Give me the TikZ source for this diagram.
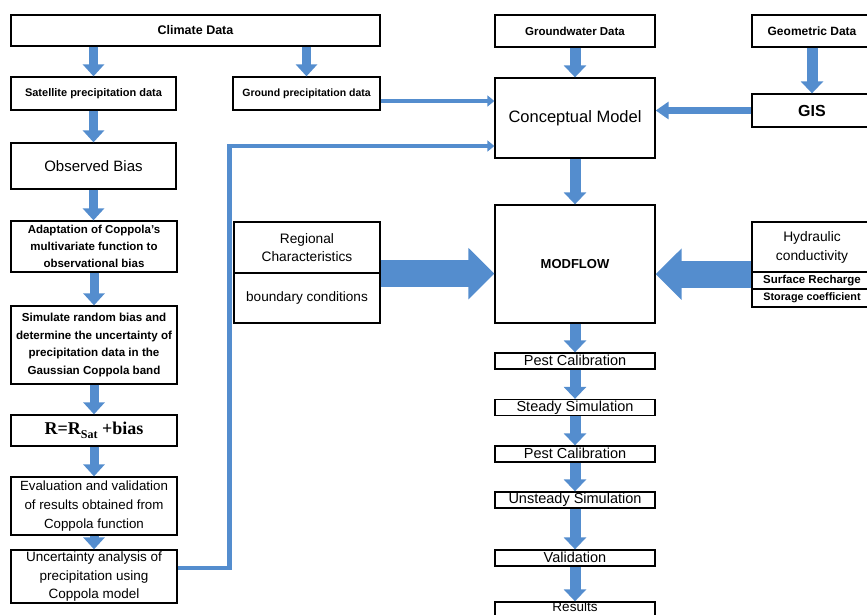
\documentclass[tikz,border=0pt]{standalone}
\usepackage{fontspec}
\setmainfont{Liberation Sans}
\newfontfamily\tnr{Liberation Serif}
\usetikzlibrary{arrows.meta}
\definecolor{ablue}{RGB}{84,141,206}
\newcommand\fs[2]{\fontsize{#1}{#2}\selectfont}
\tikzset{
  box/.style={draw, line width=1.3pt, inner sep=0pt, align=center, rectangle, fill=white},
  arr/.style={color=ablue, line width=9pt, -{Triangle[width=21pt,length=12pt]}},
  arrw/.style={color=ablue, line width=11pt, -{Triangle[width=22pt,length=12pt]}},
  arrs/.style={color=ablue, line width=7pt, -{Triangle[width=17pt,length=13pt]}},
  arrt/.style={color=ablue, line width=4.5pt, line join=miter, -{Triangle[width=11pt,length=7pt]}},
  arrbig/.style={color=ablue, line width=27pt, -{Triangle[width=50pt,length=26pt]}},
  small/.style={box, minimum width=160pt, minimum height=16pt, font=\fs{14.5}{16}},
}
\begin{document}
\begin{tikzpicture}[x=1pt,y=-1pt]
\useasboundingbox (0,0) rectangle (867,614);
% left column
\node[box, minimum width=369pt, minimum height=31pt, font=\fs{12.5}{15}\bfseries] (climate) at (195.5,30.5) {Climate Data};
\node[box, minimum width=165pt, minimum height=33pt, font=\fs{11}{13}\bfseries] (sat) at (93.5,93.5) {Satellite precipitation data};
\node[box, minimum width=147pt, minimum height=33pt, font=\fs{10.5}{13}\bfseries] (ground) at (306.5,93.5) {Ground precipitation data};
\node[box, minimum width=165pt, minimum height=46pt, font=\fs{15}{18}] (obs) at (93.5,166) {Observed Bias};
\node[box, minimum width=166pt, minimum height=51pt, font=\fs{11.5}{17}\bfseries] (adapt) at (94,246.5) {Adaptation of Coppola's\\multivariate function to\\observational bias};
\node[box, minimum width=166pt, minimum height=78pt, font=\fs{11.6}{17.5}\bfseries] (sim) at (94,345) {Simulate random bias and\\determine the uncertainty of\\precipitation data in the\\Gaussian Coppola band};
\node[box, minimum width=166pt, minimum height=31pt, font=\tnr\fs{18}{20}\bfseries] (req) at (94,430.5) {R=R\raisebox{-3.5pt}{\fs{12}{12}Sat} +bias};
\node[box, minimum width=166pt, minimum height=58pt, font=\fs{13.3}{19}] (eval) at (94,506) {Evaluation and validation\\of results obtained from\\Coppola function};
\node[box, minimum width=166pt, minimum height=53pt, font=\fs{13.5}{18.3}] (unc) at (94,576.5) {Uncertainty analysis of\\precipitation using\\Coppola model};
% middle
\node[box, minimum width=146pt, minimum height=51pt, font=\fs{13.7}{18}] (reg1) at (307,247.5) {Regional\\Characteristics};
\node[box, minimum width=146pt, minimum height=50pt, font=\fs{13.6}{16}] (reg2) at (307,298) {boundary conditions};
% center column
\node[box, minimum width=160pt, minimum height=32pt, font=\fs{11.5}{14}\bfseries] (gw) at (575,31) {Groundwater Data};
\node[box, minimum width=160pt, minimum height=80pt, font=\fs{16.5}{19}] (concept) at (575,118) {Conceptual Model};
\node[box, minimum width=160pt, minimum height=118pt, font=\fs{13}{15}\bfseries] (modflow) at (575,264) {MODFLOW};
\node[small] (pest1) at (575,361) {\raisebox{2pt}{Pest Calibration}};
\node[small] (steady) at (575,407.5) {\raisebox{2pt}{Steady Simulation}};
\node[small] (pest2) at (575,454) {\raisebox{2pt}{Pest Calibration}};
\node[small] (unsteady) at (575,500) {\raisebox{2pt}{Unsteady Simulation}};
\node[small] (valid) at (575,558) {\raisebox{2pt}{Validation}};
\node[box, minimum width=160pt, minimum height=18pt] (results) at (575,611) {};
\node[font=\fs{13.5}{15}, inner sep=0pt, anchor=base] (restext) at (575,611) {Results};
% right column
\node[box, minimum width=120pt, minimum height=32pt, font=\fs{12}{14}\bfseries] (geo) at (812,31) {Geometric Data};
\node[box, minimum width=120pt, minimum height=33pt, font=\fs{16}{18}\bfseries] (gis) at (812,110.5) {GIS};
\node[box, minimum width=120pt, minimum height=50pt, font=\fs{13.8}{19}] (hyd) at (812,247) {Hydraulic\\conductivity};
\node[box, minimum width=120pt, minimum height=17pt, font=\fs{11.5}{13}\bfseries] (surf) at (812,280.5) {Surface Recharge};
\node[box, minimum width=120pt, minimum height=18pt, font=\fs{10.8}{13}\bfseries] (stor) at (812,298) {Storage coefficient};
% arrows left column
\draw[arr] (sat.north |- climate.south) -- (sat.north);
\draw[arr] (ground.north |- climate.south) -- (ground.north);
\draw[arr] (sat.south) -- (sat.south |- obs.north);
\draw[arr] (obs.south) -- (obs.south |- adapt.north);
\draw[arr] (adapt.south) -- (sim.north);
\draw[arr] (sim.south) -- (req.north);
\draw[arr] (req.south) -- (eval.north);
\draw[arr] (eval.south) -- (unc.north);
% thin connectors
\draw[arrt] ([yshift=-7.5pt]ground.east) -- ([yshift=-7.5pt]ground.east -| concept.west);
\draw[arrt] ([yshift=8.5pt]unc.east) -- ++(52,0) |- ([yshift=-28pt]concept.west);
% center column arrows
\draw[arrw] (gw.south) -- (concept.north);
\draw[arrw] (concept.south) -- (modflow.north);
\draw[arrw] (modflow.south) -- (pest1.north);
\draw[arrw] (pest1.south) -- (steady.north);
\draw[arrw] (steady.south) -- (pest2.north);
\draw[arrw] (pest2.south) -- (unsteady.north);
\draw[arrw] (unsteady.south) -- (valid.north);
\draw[arrw] (valid.south) -- (results.north);
% right column arrows
\draw[arrw] (geo.south) -- (gis.north);
\draw[arrs] (gis.west) -- (gis.west -| concept.east);
% big arrows
\draw[arrbig] (reg1.south east) -- (reg1.south east -| modflow.west);
\draw[arrbig] ([yshift=-1.5pt]hyd.south west) -- ([yshift=-1.5pt]hyd.south west -| modflow.east);
\end{tikzpicture}
\end{document}
